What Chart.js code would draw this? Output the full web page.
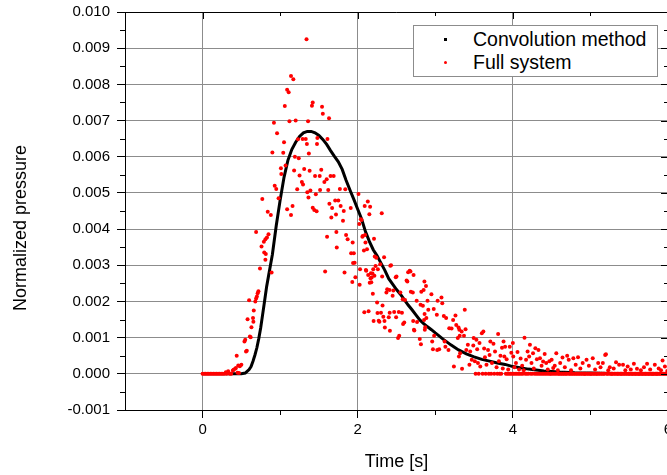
<!DOCTYPE html>
<html>
<head>
<meta charset="utf-8">
<script src="https://cdn.jsdelivr.net/npm/chart.js@4.4.0/dist/chart.umd.min.js"></script>
<style>
  html, body { margin: 0; padding: 0; background: #fff; overflow: hidden; }
  #wrap { position: relative; width: 700px; height: 475px; overflow: hidden; }
  #chart { position: absolute; left: 0; top: -4px; }
  #legend {
    position: absolute; left: 413px; top: 25px; width: 243px; height: 50px;
    border: 1px solid #8c8c8c; background: #fff;
    font-family: "Liberation Sans", Arial, sans-serif; font-size: 19.5px; color: #000;
  }
  .row { position: absolute; left: 0; height: 22px; line-height: 22px; white-space: nowrap; }
  .mark { position: absolute; left: 30px; top: 10px; width: 3px; height: 3px; }
  .lab { position: absolute; left: 59px; top: 0; }
</style>
</head>
<body>
<div id="wrap">
  <canvas id="chart" width="700" height="479"></canvas>
  <div id="legend"></div>
</div>
<script>
// axis setup
const xTicks = [0, 2, 4, 6];
const xMinor = [1, 3, 5];
const yTicks = [-0.001, 0, 0.001, 0.002, 0.003, 0.004, 0.005, 0.006, 0.007, 0.008, 0.009, 0.010];
const yMinor = [-0.0005, 0.0005, 0.0015, 0.0025, 0.0035, 0.0045, 0.0055, 0.0065, 0.0075, 0.0085, 0.0095];
const xTitle = "Time [s]";
const yTitle = "Normalized pressure";
const seriesLabels = ["Convolution method", "Full system"];

// convolution method
const convTime = [0, 0.1, 0.2, 0.3, 0.4, 0.5, 0.55, 0.6, 0.625, 0.65, 0.675, 0.7, 0.725, 0.75, 0.775, 0.8, 0.825, 0.85, 0.875, 0.9, 0.95,
  1.0, 1.05, 1.1, 1.15, 1.2, 1.25, 1.3, 1.35, 1.4, 1.45, 1.5, 1.55, 1.6, 1.65, 1.7, 1.75, 1.8, 1.85, 1.9, 1.95,
  2.0, 2.05, 2.1, 2.15, 2.2, 2.25, 2.3, 2.35, 2.4, 2.45, 2.5, 2.55, 2.6, 2.65, 2.7, 2.75, 2.8, 2.85, 2.9, 2.95,
  3.0, 3.1, 3.2, 3.3, 3.4, 3.5, 3.6, 3.7, 3.8, 3.9, 4.0, 4.2, 4.4, 4.6, 4.8, 5.0, 5.3, 5.6, 6.0];
const convValue = [0, 0, 0, 0, 0, 0, 0.00002, 0.00012, 0.0002, 0.00035, 0.00052, 0.00072, 0.00098, 0.00128, 0.00165, 0.00202, 0.0024, 0.0027, 0.003, 0.0033, 0.0041,
  0.0048, 0.00543, 0.0059, 0.0062, 0.0064, 0.00656, 0.00666, 0.0067, 0.0067, 0.00666, 0.00659, 0.00648, 0.00634, 0.00617, 0.00601, 0.00586, 0.00565, 0.00535, 0.00508, 0.00482,
  0.00455, 0.00428, 0.00393, 0.00366, 0.00343, 0.00326, 0.00306, 0.00286, 0.00263, 0.00248, 0.00233, 0.0022, 0.00205, 0.0019, 0.00177, 0.00163, 0.00149, 0.00139, 0.0013, 0.00122,
  0.00113, 0.00096, 0.0008, 0.00066, 0.00055, 0.00047, 0.0004, 0.00035, 0.0003, 0.00026, 0.0002, 0.00013, 0.00008, 0.00005, 0.00003, 0.00002, 0.00001, 0, 0];

// full system: [time, value]
const fullSystem = [
  [0,0],[0.02,0],[0.04,0],[0.06,0],[0.08,0],[0.1,0],[0.12,0],[0.14,0],[0.16,0],[0.18,0],[0.2,0],[0.22,0],[0.24,0],[0.26,0],[0.28,0],
  [0.3,0.00004],[0.31,0],[0.33,0.00007],[0.35,0],[0.37,0],[0.39,0.00009],[0.4,0.00011],[0.42,0.00014],[0.43,0.00016],[0.44,0.0005],
  [0.45,0.00003],[0.46,0.00023],[0.47,0.00002],[0.48,0.00021],[0.5,0.00025],
  [0.54,0.00089],[0.55,0.00094],[0.56,0.00062],[0.57,0.00064],[0.58,0.00151],[0.6,0.00203],[0.61,0.00103],[0.62,0.00101],[0.63,0.00129],
  [0.65,0.00154],[0.655,0.00144],[0.66,0.00175],[0.68,0.002],[0.69,0.00208],[0.69,0.00392],[0.7,0.00214],[0.71,0.00223],[0.72,0.00228],
  [0.74,0.00291],[0.76,0.00352],[0.77,0.00483],[0.79,0.00365],[0.795,0.00335],[0.81,0.00372],[0.81,0.00315],[0.815,0.00331],[0.83,0.00377],
  [0.84,0.00448],[0.85,0.00386],[0.88,0.00439],[0.89,0.0028],[0.9,0.00612],[0.92,0.00694],[0.93,0.0052],[0.95,0.00511],[0.96,0.00665],
  [0.98,0.00485],[1.01,0.00568],[1.015,0.00552],[1.04,0.00611],[1.05,0.0064],[1.06,0.0074],[1.07,0.00576],[1.09,0.00785],[1.09,0.00455],
  [1.11,0.00778],[1.12,0.00698],[1.14,0.00823],[1.14,0.00439],[1.16,0.00464],[1.17,0.00814],[1.18,0.00562],[1.19,0.006],[1.2,0.007],
  [1.22,0.0051],[1.23,0.00648],[1.24,0.00596],[1.25,0.00548],[1.28,0.0053],[1.29,0.00649],[1.295,0.00523],[1.31,0.00566],[1.33,0.00649],
  [1.34,0.00925],[1.345,0.00635],[1.35,0.00502],[1.36,0.00698],[1.365,0.00487],[1.37,0.00609],[1.38,0.00561],[1.39,0.00507],[1.41,0.00741],
  [1.42,0.0075],[1.42,0.00459],[1.44,0.00453],[1.45,0.00547],[1.46,0.00496],[1.47,0.00449],[1.475,0.00635],[1.48,0.00652],[1.51,0.00547],
  [1.515,0.00508],[1.53,0.00564],[1.54,0.00738],[1.55,0.00719],[1.57,0.0053],[1.58,0.00283],[1.6,0.00538],[1.605,0.00379],[1.61,0.00649],
  [1.62,0.00508],[1.63,0.00706],[1.635,0.0047],[1.65,0.00547],[1.66,0.00432],[1.67,0.00458],[1.69,0.00547],[1.71,0.00479],[1.72,0.0044],
  [1.725,0.00392],[1.73,0.00349],[1.75,0.00479],[1.77,0.00511],[1.78,0.00464],[1.81,0.00423],[1.82,0.0045],[1.83,0.0028],[1.84,0.0051],
  [1.85,0.00384],[1.87,0.00372],[1.91,0.00458],[1.915,0.00333],[1.93,0.00254],[1.935,0.00363],[1.94,0.00306],[1.95,0.00333],[1.96,0.00307],
  [1.97,0.00267],[2.01,0.00497],[2.02,0.00414],[2.025,0.00246],[2.03,0.00289],[2.04,0.00427],[2.05,0.00425],[2.06,0.00379],[2.065,0.00381],
  [2.08,0.00341],[2.085,0.0017],[2.09,0.00464],[2.095,0.00384],[2.1,0.00363],[2.105,0.00287],[2.11,0.00285],[2.12,0.00344],[2.13,0.00476],
  [2.135,0.00273],[2.14,0.00173],[2.15,0.00441],[2.155,0.00252],[2.16,0.00462],[2.165,0.00264],[2.17,0.00278],[2.175,0.00253],[2.18,0.00266],
  [2.19,0.00277],[2.195,0.00221],[2.2,0.00289],[2.205,0.00146],[2.21,0.00373],[2.215,0.00271],[2.22,0.00324],[2.23,0.00298],[2.24,0.00321],
  [2.25,0.00197],[2.255,0.00168],[2.26,0.00289],[2.27,0.00147],[2.28,0.00144],[2.29,0.00303],[2.3,0.00169],[2.31,0.00444],[2.315,0.00269],
  [2.32,0.00189],[2.33,0.00158],[2.34,0.00322],[2.345,0.00146],[2.35,0.00128],[2.37,0.00225],[2.38,0.00234],[2.4,0.00156],[2.41,0.00232],
  [2.412,0.00169],[2.415,0.00119],[2.42,0.00299],[2.43,0.003],[2.45,0.00216],[2.46,0.0023],[2.47,0.00171],[2.49,0.00267],[2.495,0.00156],
  [2.5,0.00269],[2.52,0.00099],[2.53,0.00171],[2.535,0.00105],[2.55,0.00225],[2.57,0.00169],[2.58,0.00206],[2.585,0.00138],[2.6,0.00142],
  [2.61,0.00204],[2.63,0.00258],[2.64,0.00255],[2.65,0.00281],[2.67,0.00285],[2.68,0.00283],[2.685,0.00227],[2.71,0.00225],[2.715,0.00146],
  [2.72,0.00273],[2.725,0.00122],[2.73,0.0012],[2.76,0.00202],[2.765,0.00143],[2.8,0.00096],[2.81,0.00191],[2.815,0.00082],[2.82,0.00227],
  [2.84,0.00188],[2.85,0.00232],[2.855,0.00149],[2.86,0.00255],[2.862,0.00165],[2.865,0.00122],[2.87,0.00129],[2.88,0.00243],[2.885,0.00154],
  [2.9,0.00202],[2.91,0.00177],[2.95,0.0022],[2.96,0.00089],[2.97,0.00068],[2.98,0.00179],[2.985,0.00105],[3.02,0.00163],[3.025,0.00066],
  [3.03,0.00202],[3.05,0.00068],[3.08,0.00211],[3.09,0.00195],[3.11,0.0016],[3.12,0.00089],[3.13,0.00075],[3.14,0.00154],[3.17,0.00066],
  [3.18,0.00126],[3.21,0.00125],[3.23,0.00149],[3.24,0.0002],[3.26,0.00161],[3.27,0.00135],[3.29,0.00099],[3.3,0.00128],[3.305,0.00048],
  [3.31,0.00122],[3.315,0.00105],[3.32,0.00057],[3.34,0.00117],[3.345,0.00014],[3.37,0.00105],[3.38,0.00177],[3.39,0.00123],[3.4,0.00066],
  [3.42,0.0008],[3.44,0.00025],[3.45,0.00062],[3.47,0.00039],[3.49,0.00078],[3.495,0.00099],[3.51,0.00035],[3.52,0],[3.53,0.00094],
  [3.54,0.00068],[3.55,0.0003],[3.56,0],[3.57,0.00085],[3.58,0.0002],[3.6,0.00112],[3.61,0],[3.62,0.00117],[3.63,0.0007],[3.64,0.00046],
  [3.65,0],[3.66,0.00025],[3.68,0.00066],[3.69,0],[3.7,0.00052],[3.71,0.00089],[3.72,0],[3.73,0.0003],[3.75,0.00083],[3.76,0],
  [3.77,0.00062],[3.79,0.00018],[3.8,0],[3.81,0.0011],[3.82,0.00035],[3.83,0],[3.84,0.0005],[3.85,0],[3.86,0.00072],[3.87,0.00015],
  [3.88,0.00089],[3.89,0.00048],[3.9,0.00075],[3.92,0.0004],[3.94,0.00012],[3.96,0.00075],[3.98,0.00058],[4,0.00085],[4.005,0.00048],
  [4.02,0.00018],[4.04,0.0003],[4.06,0.0006],[4.08,0.00012],[4.1,0.00042],[4.12,0.00022],[4.14,0.0001],[4.15,0.001],[4.17,0.00039],
  [4.19,0.00062],[4.21,0.00048],[4.22,0.0008],[4.24,0.0003],[4.26,0.00057],[4.27,0.00015],[4.29,0.00071],[4.31,0.0004],[4.33,0.00066],
  [4.35,0.00043],[4.37,0.00022],[4.39,0.00034],[4.41,0.00055],[4.43,0.0003],[4.45,0.00012],[4.47,0.00035],[4.5,0.00039],[4.52,0.00016],
  [4.54,0.00022],[4.56,0.00057],[4.58,0.0001],[4.61,0.0003],[4.64,0.00045],[4.67,0.00018],[4.7,0.0005],[4.72,0.00039],[4.75,0.0001],
  [4.78,0.00043],[4.81,0.00025],[4.84,0.00046],[4.87,0.00015],[4.9,0.0003],[4.95,0.00039],[4.98,0.00022],[5.03,0.00043],[5.06,0.00012],
  [5.1,0.0003],[5.13,0.00018],[5.16,0.0003],[5.19,0.00052],[5.2,0.00054],[5.23,0.0001],[5.25,0.00018],[5.3,0.00015],[5.33,0.00032],
  [5.37,0.00025],[5.42,0.00025],[5.45,0.0001],[5.48,0.0002],[5.52,0.00012],[5.56,0.00028],[5.6,0.00014],[5.65,0.0001],[5.69,0.00018],
  [5.73,0.00028],[5.77,0.00012],[5.83,0.00025],[5.88,0.00015],[5.91,0.0001],[5.93,0.00037],[5.96,0.0002],[5.99,0.00008],
  [3.91,0],[3.93,0],[3.95,0],[3.97,0],[3.99,0],[4.01,0],[4.03,0],[4.05,0],[4.07,0],[4.09,0],[4.11,0],[4.13,0],[4.16,0],[4.18,0],[4.2,0],
  [4.23,0],[4.25,0],[4.28,0],[4.3,0],[4.32,0],[4.34,0],[4.36,0],[4.38,0],[4.4,0],[4.42,0],[4.44,0],[4.46,0],[4.48,0],[4.49,0],[4.51,0],
  [4.53,0],[4.55,0],[4.57,0],[4.59,0],[4.6,0],[4.62,0],[4.63,0],[4.65,0],[4.66,0],[4.68,0],[4.69,0],[4.71,0],[4.73,0],[4.74,0],[4.76,0],
  [4.77,0],[4.79,0],[4.8,0],[4.82,0],[4.83,0],[4.85,0],[4.86,0],[4.88,0],[4.89,0],[4.91,0],[4.92,0],[4.93,0],[4.94,0],[4.96,0],[4.97,0],
  [4.99,0],[5,0],[5.01,0],[5.02,0],[5.04,0],[5.05,0],[5.07,0],[5.08,0],[5.09,0],[5.11,0],[5.12,0],[5.14,0],[5.15,0],[5.17,0],[5.18,0],
  [5.21,0],[5.22,0],[5.24,0],[5.26,0],[5.27,0],[5.28,0],[5.29,0],[5.31,0],[5.32,0],[5.34,0],[5.35,0],[5.36,0],[5.38,0],[5.39,0],[5.4,0],
  [5.41,0],[5.43,0],[5.44,0],[5.46,0],[5.47,0],[5.49,0],[5.5,0],[5.51,0],[5.53,0],[5.54,0],[5.55,0],[5.57,0],[5.58,0],[5.59,0],[5.61,0],
  [5.62,0],[5.63,0],[5.64,0],[5.66,0],[5.67,0],[5.68,0],[5.7,0],[5.71,0],[5.72,0],[5.74,0],[5.75,0],[5.76,0],[5.78,0],[5.79,0],[5.8,0],
  [5.81,0],[5.82,0],[5.84,0],[5.85,0],[5.86,0],[5.87,0],[5.89,0],[5.9,0],[5.92,0],[5.94,0],[5.95,0],[5.97,0],[5.98,0],[6,0]
];

const FONT = '"Liberation Sans", Arial, sans-serif';
const colors = ["#000000", "#ff0000"];

// frame, top/right ticks, minor ticks and the y title
const framePlugin = {
  id: "frame",
  afterDraw(chart) {
    const { ctx, chartArea: a, scales: { x, y } } = chart;
    ctx.save();
    ctx.strokeStyle = "#000";
    ctx.lineWidth = 1;
    ctx.beginPath();
    ctx.moveTo(a.left, a.top + 0.5); ctx.lineTo(a.right, a.top + 0.5);
    ctx.moveTo(a.right - 0.5, a.top); ctx.lineTo(a.right - 0.5, a.bottom);
    xTicks.forEach(v => {
      const px = Math.round(x.getPixelForValue(v)) + 0.5;
      ctx.moveTo(px, a.top); ctx.lineTo(px, a.top + 7);
    });
    xMinor.forEach(v => {
      const px = Math.round(x.getPixelForValue(v)) + 0.5;
      ctx.moveTo(px, a.top); ctx.lineTo(px, a.top + 4);
      ctx.moveTo(px, a.bottom); ctx.lineTo(px, a.bottom + 5);
    });
    yTicks.forEach(v => {
      const py = Math.round(y.getPixelForValue(v)) + 0.5;
      ctx.moveTo(a.right, py); ctx.lineTo(a.right - 7, py);
    });
    yMinor.forEach(v => {
      const py = Math.round(y.getPixelForValue(v)) + 0.5;
      ctx.moveTo(a.left - 5, py); ctx.lineTo(a.left, py);
      ctx.moveTo(a.right, py); ctx.lineTo(a.right - 4, py);
    });
    ctx.stroke();
    ctx.translate(21, 232);
    ctx.rotate(-Math.PI / 2);
    ctx.font = "18px " + FONT;
    ctx.fillStyle = "#000";
    ctx.textAlign = "center";
    ctx.textBaseline = "middle";
    ctx.fillText(yTitle, 0, 0);
    ctx.restore();
  }
};

const ctx = document.getElementById("chart").getContext("2d");
const chart = new Chart(ctx, {
  type: "scatter",
  data: {
    datasets: [{
      label: seriesLabels[0],
      data: convTime.map((t, i) => ({ x: t, y: convValue[i] })),
      showLine: true,
      borderColor: colors[0],
      borderWidth: 3,
      pointRadius: 0,
      order: 2
    }, {
      label: seriesLabels[1],
      data: fullSystem.map(p => ({ x: p[0], y: p[1] })),
      backgroundColor: colors[1],
      borderWidth: 0,
      pointRadius: 2,
      order: 1
    }]
  },
  options: {
    responsive: false,
    animation: false,
    layout: { padding: { top: 7, right: 32, left: 0, bottom: 0 } },
    plugins: { legend: { display: false }, tooltip: { enabled: false } },
    scales: {
      x: {
        type: "linear",
        min: -1,
        max: 6,
        afterBuildTicks: s => { s.ticks = xTicks.map(v => ({ value: v })); },
        afterFit: s => { s.height = 65; },
        ticks: { color: "#000", font: { family: FONT, size: 15 }, padding: 3, maxRotation: 0 },
        grid: { color: "#8c8c8c", lineWidth: 1, tickLength: 8, tickColor: "#000" },
        border: { color: "#000", width: 1 },
        title: { display: true, text: xTitle, color: "#000", font: { family: FONT, size: 18 }, padding: { top: 0, bottom: 2 } }
      },
      y: {
        type: "linear",
        min: -0.001,
        max: 0.010,
        afterBuildTicks: s => { s.ticks = yTicks.map(v => ({ value: v })); },
        afterFit: s => { s.width = 125; },
        ticks: { color: "#000", font: { family: FONT, size: 15 }, padding: 7, callback: v => v.toFixed(3) },
        grid: { color: "#8c8c8c", lineWidth: 1, tickLength: 8, tickColor: "#000" },
        border: { color: "#000", width: 1 }
      }
    }
  },
  plugins: [framePlugin]
});

// legend box inside the plot
const legend = document.getElementById("legend");
seriesLabels.forEach((name, i) => {
  const row = document.createElement("div");
  row.className = "row";
  row.style.top = (2 + i * 23) + "px";
  const mark = document.createElement("span");
  mark.className = "mark";
  mark.style.background = colors[i];
  if (i === 1) mark.style.borderRadius = "50%";
  const lab = document.createElement("span");
  lab.className = "lab";
  lab.textContent = name;
  row.appendChild(mark);
  row.appendChild(lab);
  legend.appendChild(row);
});
</script>
</body>
</html>
